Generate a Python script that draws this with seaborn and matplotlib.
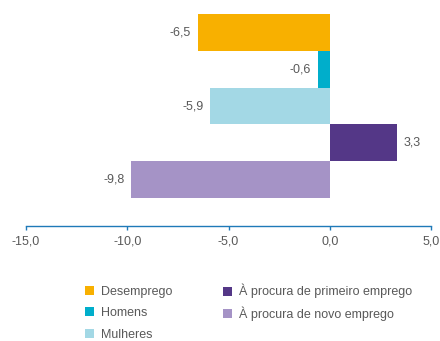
import matplotlib
matplotlib.use("Agg")
import matplotlib.pyplot as plt
import seaborn as sns
import pandas as pd
from matplotlib.patches import Patch

categories = ["Desemprego", "Homens", "Mulheres",
              "À procura de primeiro emprego", "À procura de novo emprego"]
values = [-6.5, -0.6, -5.9, 3.3, -9.8]
colors = ["#F8B000", "#00AECB", "#A3D8E5", "#543787", "#A593C6"]
xticks = [-15, -10, -5, 0, 5]
xtick_labels = ["-15,0", "-10,0", "-5,0", "0,0", "5,0"]

sns.set_style("white")
plt.rcParams['font.family'] = ['Liberation Sans', 'DejaVu Sans']

df = pd.DataFrame({"cat": categories, "val": values})
fig = plt.figure(figsize=(4.4, 3.41), dpi=100)
ax = fig.add_axes([26/440, 1-226/341, (431-26)/440, (226-14)/341])
sns.barplot(data=df, x="val", y="cat", hue="cat", palette=colors, orient="h",
            width=1.0, legend=False, ax=ax, saturation=1, linewidth=0,
            edgecolor="none")

ax.set_xlim(-15, 5)
ax.set_ylim(5.26, -0.5)
ax.set_xticks(xticks)
ax.set_xticklabels(xtick_labels, fontsize=9, color="#595959")
ax.set_yticks([])
ax.set_xlabel("")
ax.set_ylabel("")
for s in ["top", "right", "left"]:
    ax.spines[s].set_visible(False)
ax.spines["bottom"].set_color("#1F7AB8")
ax.spines["bottom"].set_linewidth(1.0)
ax.tick_params(axis="x", bottom=True, direction="out", length=3, width=1,
               color="#1F7AB8", pad=4)

for cont in ax.containers:
    for bar in cont:
        v = bar.get_width()
        y = bar.get_y() + bar.get_height() / 2
        lab = f"{v:.1f}".replace(".", ",")
        if v < 0:
            ax.annotate(lab, (v, y), xytext=(-5, 0), textcoords="offset points",
                        ha="right", va="center", fontsize=9, color="#595959")
        else:
            ax.annotate(lab, (v, y), xytext=(5, 0), textcoords="offset points",
                        ha="left", va="center", fontsize=9, color="#595959")

handles = [Patch(facecolor=c, edgecolor="none") for c in colors]
common = dict(loc="upper left", ncol=1, frameon=False, fontsize=9,
              labelcolor="#595959", handlelength=0.75, handleheight=0.75,
              handletextpad=0.5, borderaxespad=0, borderpad=0)
fig.legend(handles[:3], categories[:3], bbox_to_anchor=(85/440, 1-285.5/341),
           labelspacing=0.78, **common)
fig.legend(handles[3:], categories[3:], bbox_to_anchor=(223/440, 1-284/341),
           labelspacing=0.62, **common)

fig.savefig("out.png", dpi=100)
